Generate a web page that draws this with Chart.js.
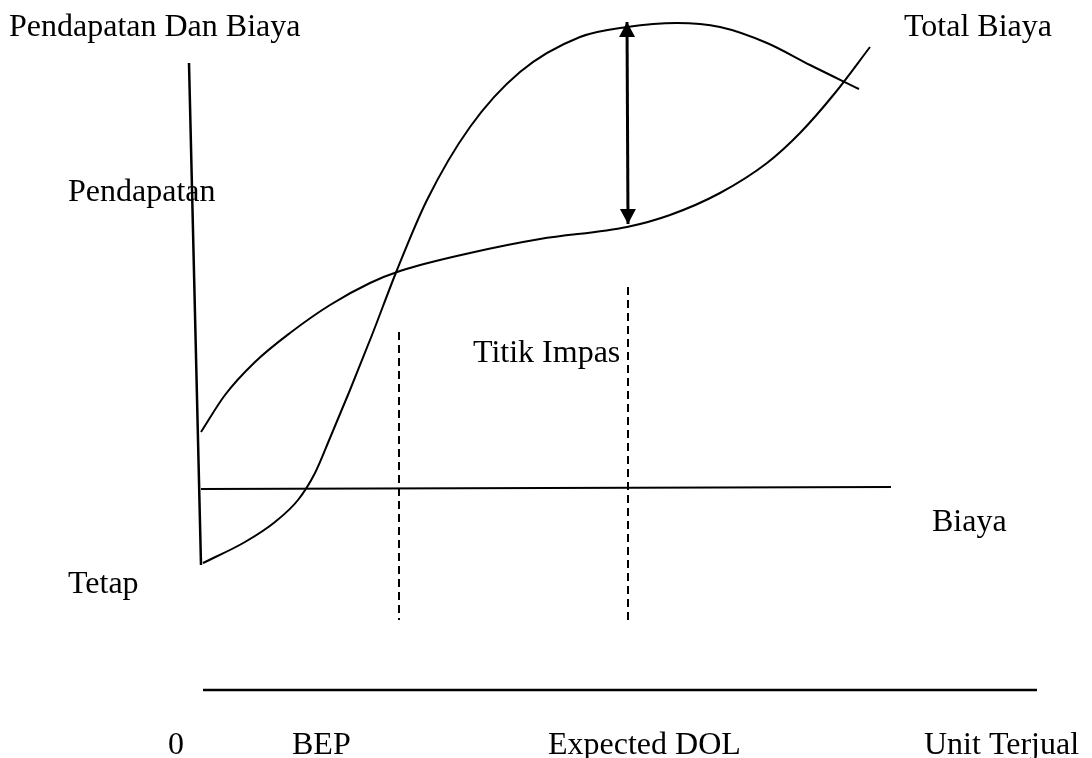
<!DOCTYPE html>
<html>
<head>
<meta charset="utf-8">
<script src="https://cdn.jsdelivr.net/npm/chart.js@4"></script>
<style>
html,body{margin:0;padding:0;background:#fff;}
#wrap{width:1092px;height:758px;position:relative;}
</style>
</head>
<body>
<div id="wrap"><canvas id="c" width="1092" height="758"></canvas></div>
<script>
const revenueX = [203,245,275,298,315,330,350,372,397,427,470,520,580,627,677,720,767,810,859];
const revenueY = [563,542,522,500,473,438,390,335,270,200,127,72,37,27,23,27,43,65,89];
const costX = [201,225,255,290,330,370,400,470,540,627,670,720,767,800,835,870];
const costY = [432,395,362,333,305,283,271,253,239,227,215,193,163,133,93,47];
const axisX = [189,201];
const axisY = [63,565];
const fixedCostX = [201,891];
const fixedCostY = [489,487];
const baseX = [203,1037];
const baseY = [690,690];
const bepX = [399,399];
const bepY = [332,620];
const dolX = [628,628];
const dolY = [287,625];
const arrowX = [627,628];
const arrowY = [22,224];

const labelTexts = ["Pendapatan Dan Biaya","Total Biaya","Pendapatan","Titik Impas","Biaya","Tetap","0","BEP","Expected DOL","Unit Terjual"];
const labelX = [9,904,68,473,932,68,168,292,548,924];
const labelY = [36,36,201,362,531,593,754,754,754,754];

function pts(xs, ys){ return xs.map((x,i)=>({x:x,y:ys[i]})); }

const black = '#000';
function seg(xs, ys, w, dash){
  return {data:pts(xs,ys), showLine:true, borderColor:black, borderWidth:w, pointRadius:0, borderDash:dash||[], tension:0, fill:false};
}

const arrowHeads = {
  id:'arrowHeads',
  afterDatasetsDraw(chart){
    const ctx = chart.ctx;
    chart.data.datasets.forEach((ds,i)=>{
      if(!ds.arrow) return;
      const pts = chart.getDatasetMeta(i).data;
      const a = pts[0], b = pts[pts.length-1];
      const draw = (tip, from) => {
        const ang = Math.atan2(tip.y-from.y, tip.x-from.x);
        const L = 15, W = 8;
        ctx.save();
        ctx.fillStyle = black;
        ctx.beginPath();
        ctx.moveTo(tip.x, tip.y);
        ctx.lineTo(tip.x - L*Math.cos(ang) + W*Math.sin(ang), tip.y - L*Math.sin(ang) - W*Math.cos(ang));
        ctx.lineTo(tip.x - L*Math.cos(ang) - W*Math.sin(ang), tip.y - L*Math.sin(ang) + W*Math.cos(ang));
        ctx.closePath();
        ctx.fill();
        ctx.restore();
      };
      draw(a,b); draw(b,a);
    });
  }
};

const textLabels = {
  id:'textLabels',
  afterDraw(chart){
    const ctx = chart.ctx;
    const xs = chart.scales.x, ys = chart.scales.y;
    ctx.save();
    ctx.fillStyle = black;
    ctx.font = '32px "Liberation Serif", "Times New Roman", serif';
    ctx.textAlign = 'left';
    ctx.textBaseline = 'alphabetic';
    labelTexts.forEach((t,i)=>{
      ctx.fillText(t, xs.getPixelForValue(labelX[i]), ys.getPixelForValue(labelY[i]));
    });
    ctx.restore();
  }
};

const arrowDs = seg(arrowX, arrowY, 3);
arrowDs.arrow = true;
const revDs = seg(revenueX, revenueY, 2);
revDs.cubicInterpolationMode = 'monotone';
const costDs = seg(costX, costY, 2);
costDs.cubicInterpolationMode = 'monotone';

new Chart(document.getElementById('c'), {
  type:'scatter',
  data:{datasets:[
    seg(axisX, axisY, 2.5),
    seg(fixedCostX, fixedCostY, 2),
    seg(baseX, baseY, 2.5),
    seg(bepX, bepY, 2, [8,5]),
    seg(dolX, dolY, 2, [8,5]),
    revDs,
    costDs,
    arrowDs
  ]},
  options:{
    responsive:false,
    animation:false,
    layout:{padding:0},
    plugins:{legend:{display:false}, tooltip:{enabled:false}},
    scales:{
      x:{type:'linear', min:0, max:1092, display:false},
      y:{type:'linear', min:0, max:758, reverse:true, display:false}
    }
  },
  plugins:[arrowHeads, textLabels]
});
</script>
</body>
</html>
